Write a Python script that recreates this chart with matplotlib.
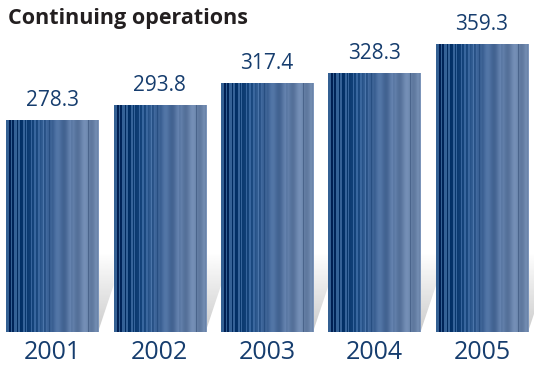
import numpy as np
import matplotlib
matplotlib.use('Agg')
import matplotlib.pyplot as plt
from matplotlib.patches import Polygon
from matplotlib.colors import to_rgb

years = ['2001', '2002', '2003', '2004', '2005']
revenue = [278.3, 293.8, 317.4, 328.3, 359.3]

base = 50.0          # value at the drawn baseline
bar_w = 0.856
navy = '#163d6e'

plt.rcParams['font.family'] = ['Open Sans', 'DejaVu Sans']

fig = plt.figure(figsize=(5.34, 3.65), dpi=100)
ax = fig.add_axes([0, 0, 1, 1])
ax.set_xlim(-0.484, 4.484)
ax.set_ylim(14.5, 407)
ax.axis('off')


def stripe_texture(n=184):
    # vertical stripes: dark and busy on the left, lighter and softer on the right
    t = np.linspace(0, 1, n)
    stops = [0.0, 0.3, 0.55, 0.8, 1.0]
    cols = np.array([to_rgb(c) for c in ['#0b376a', '#23528a', '#46699a', '#6580a8', '#7089ae']])
    rgb = np.stack([np.interp(t, stops, cols[:, k]) for k in range(3)], axis=1)
    busy = (0.5 * np.sin(2 * np.pi * 23 * t) + 0.35 * np.sin(2 * np.pi * 37 * t + 1.3)
            + 0.25 * np.sin(2 * np.pi * 11 * t + 0.4))
    amp = 0.04 + 0.12 * np.clip(1 - t / 0.45, 0, 1)
    soft = 0.05 * np.cos(2 * np.pi * (t - 0.1) / 0.15)
    shade = np.where(busy > 0.1, amp, -amp * 0.7) * (t < 0.5) + soft * (t > 0.35)
    for pos in [0.42, 0.71, 0.89, 0.985]:
        shade -= 0.12 * np.exp(-((t - pos) / 0.005) ** 2)
    rgb = np.clip(rgb + shade[:, None], 0, 1)
    return rgb[None, :, :]


tex = stripe_texture()

# soft gray shadow to the right of each bar
gap = 1 - bar_w
sh_top = base + 86
sh_mid = base + 50
shade_img = np.linspace(0.80, 1.0, 64)[:, None] * np.ones((64, 2))
for i in range(len(years)):
    x0 = i + bar_w / 2
    x1 = x0 + gap
    poly = Polygon([(x0, sh_top), (x1, sh_top), (x1, sh_mid), (x0, base)],
                   closed=True, facecolor='none', edgecolor='none')
    ax.add_patch(poly)
    im = ax.imshow(shade_img, cmap='gray', vmin=0, vmax=1, aspect='auto',
                   extent=(x0, x1, base, sh_top), origin='lower', zorder=1)
    im.set_clip_path(poly)

bars = ax.bar(range(len(years)), [v - base for v in revenue], bottom=base,
              width=bar_w, color='#3d6290', linewidth=0, zorder=2)
for b in bars:
    x, y = b.get_x(), b.get_y()
    im = ax.imshow(tex, aspect='auto', zorder=3, interpolation='nearest',
                   extent=(x, x + b.get_width(), y, y + b.get_height()))
    im.set_clip_path(b)

for i, v in enumerate(revenue):
    ax.annotate(f'{v:.1f}', xy=(i, v), xytext=(0, 10), textcoords='offset points',
                ha='center', va='baseline', fontsize=15, color=navy, zorder=4)
    ax.annotate(years[i], xy=(i, 0), xycoords=('data', 'axes fraction'),
                ha='center', va='bottom', fontsize=18, color=navy)

fig.text(8 / 534, 1 - 24 / 365, 'Continuing operations', fontsize=15.5,
         fontweight='bold', color='#231f20', va='baseline', ha='left')

fig.savefig('out.png', dpi=100, facecolor='white')
